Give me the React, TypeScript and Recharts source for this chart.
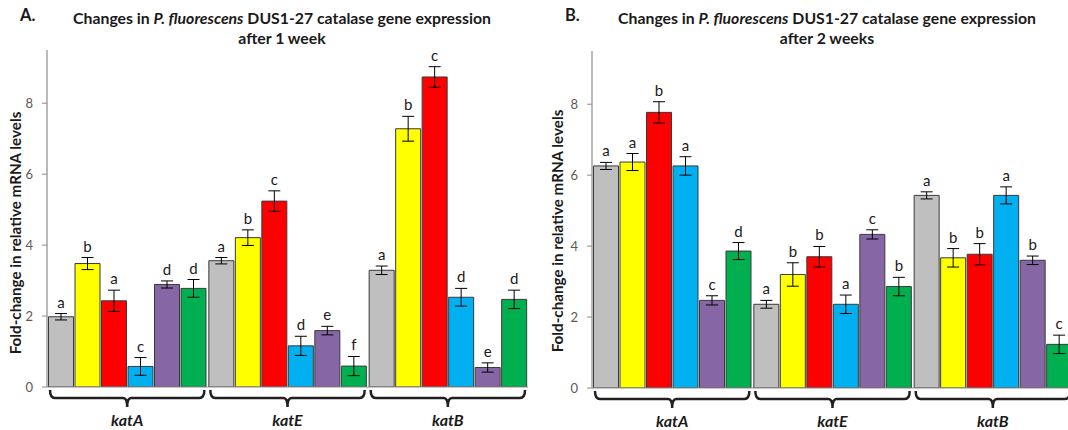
import React from 'react';
import { BarChart, Bar, XAxis, YAxis, ErrorBar, LabelList } from 'recharts';

const FONT = 'Lato, "Open Sans", sans-serif';

const genes = ['katA', 'katE', 'katB'];
const treatmentKeys = ['t1', 't2', 't3', 't4', 't5', 't6'];
const treatmentColors = ['#BFBFBF', '#FFFF00', '#FF0000', '#00B0F0', '#8766A6', '#00B050'];
const yTicks = [0, 2, 4, 6, 8];

// Week 1 (panel A): values per treatment, in gene order katA, katE, katB
const w1T1 = [1.98, 3.56, 3.29];
const w1T2 = [3.48, 4.21, 7.28];
const w1T3 = [2.43, 5.24, 8.74];
const w1T4 = [0.58, 1.16, 2.53];
const w1T5 = [2.89, 1.59, 0.55];
const w1T6 = [2.78, 0.59, 2.47];
const w1E1 = [0.09, 0.09, 0.12];
const w1E2 = [0.17, 0.22, 0.35];
const w1E3 = [0.3, 0.29, 0.29];
const w1E4 = [0.25, 0.27, 0.25];
const w1E5 = [0.1, 0.12, 0.13];
const w1E6 = [0.25, 0.27, 0.26];
const w1L1 = ['a', 'a', 'a'];
const w1L2 = ['b', 'b', 'b'];
const w1L3 = ['a', 'c', 'c'];
const w1L4 = ['c', 'd', 'd'];
const w1L5 = ['d', 'e', 'e'];
const w1L6 = ['d', 'f', 'd'];

// Week 2 (panel B)
const w2T1 = [6.26, 2.36, 5.43];
const w2T2 = [6.37, 3.2, 3.67];
const w2T3 = [7.77, 3.7, 3.77];
const w2T4 = [6.26, 2.36, 5.43];
const w2T5 = [2.47, 4.33, 3.6];
const w2T6 = [3.86, 2.86, 1.23];
const w2E1 = [0.1, 0.11, 0.1];
const w2E2 = [0.24, 0.33, 0.26];
const w2E3 = [0.3, 0.29, 0.3];
const w2E4 = [0.26, 0.26, 0.24];
const w2E5 = [0.13, 0.13, 0.12];
const w2E6 = [0.24, 0.26, 0.26];
const w2L1 = ['a', 'a', 'a'];
const w2L2 = ['a', 'b', 'b'];
const w2L3 = ['b', 'b', 'b'];
const w2L4 = ['a', 'a', 'a'];
const w2L5 = ['c', 'c', 'b'];
const w2L6 = ['d', 'b', 'c'];

function buildRows(vals: number[][], errs: number[][], lets: string[][]) {
  return genes.map((g, i) => {
    const row: any = { gene: g };
    treatmentKeys.forEach((k, j) => {
      row[k] = vals[j][i];
      row[k + 'Err'] = errs[j][i];
      row[k + 'Let'] = lets[j][i];
    });
    return row;
  });
}

const week1Rows = buildRows(
  [w1T1, w1T2, w1T3, w1T4, w1T5, w1T6],
  [w1E1, w1E2, w1E3, w1E4, w1E5, w1E6],
  [w1L1, w1L2, w1L3, w1L4, w1L5, w1L6]
);
const week2Rows = buildRows(
  [w2T1, w2T2, w2T3, w2T4, w2T5, w2T6],
  [w2E1, w2E2, w2E3, w2E4, w2E5, w2E6],
  [w2L1, w2L2, w2L3, w2L4, w2L5, w2L6]
);

function makeLetter(rows: any[], key: string) {
  return (props: any) => {
    const vb = props.viewBox ?? {};
    const x = props.x ?? vb.x;
    const y = props.y ?? vb.y;
    const w = props.width ?? vb.width;
    const h = props.height ?? vb.height;
    const row = rows[props.index];
    if (!row) return null;
    const v = row[key];
    const e = row[key + 'Err'];
    const errPx = v ? (e * h) / v : 0;
    return (
      <text x={x + w / 2} y={y - errPx - 6} textAnchor="middle" fontSize={15} fill="#1a1a1a" fontFamily={FONT}>
        {row[key + 'Let']}
      </text>
    );
  };
}

function makeGeneTick(band: number) {
  return (props: any) => {
    const { x, y, payload } = props;
    const half = band / 2 - 3;
    const x0 = x - half;
    const x1 = x + half;
    const yL = y + 11;
    const yT = y + 3;
    const d = `M${x0},${yT} Q${x0},${yL} ${x0 + 5},${yL} L${x - 4},${yL} Q${x},${yL} ${x},${yL + 9} Q${x},${yL} ${x + 4},${yL} L${x1 - 5},${yL} Q${x1},${yL} ${x1},${yT}`;
    return (
      <g>
        <path d={d} fill="none" stroke="#231f20" strokeWidth={2.5} />
        <text x={x} y={y + 38.5} textAnchor="middle" fontSize={16} fontWeight="bold" fontStyle="italic" fill="#1a1a1a" fontFamily={FONT}>
          {payload.value}
        </text>
      </g>
    );
  };
}

function Panel(props: { rows: any[]; width: number; left: number; top: number; xHeight: number; labelX: number; labelY: number }) {
  const { rows, width, left, top, xHeight, labelX, labelY } = props;
  const right = 6;
  const yW = 40;
  const plotW = width - left - right - yW;
  const band = plotW / genes.length;
  const axisColor = '#8c8c8c';
  return (
    <BarChart
      width={width}
      height={430}
      data={rows}
      margin={{ top, right, bottom: 0, left }}
      barCategoryGap={1.5}
      barGap={1.5}
    >
      <XAxis
        dataKey="gene"
        height={xHeight}
        axisLine={{ stroke: axisColor, strokeWidth: 1.2 }}
        tickLine={false}
        tickSize={0}
        tickMargin={0}
        tick={makeGeneTick(band)}
        interval={0}
      />
      <XAxis xAxisId="top" dataKey="gene" orientation="top" height={0} tick={false} tickLine={false} axisLine={{ stroke: axisColor, strokeWidth: 1.2 }} />
      <YAxis
        width={yW}
        domain={[0, 9.5]}
        ticks={yTicks}
        allowDataOverflow
        axisLine={{ stroke: axisColor, strokeWidth: 1.2 }}
        tickLine={{ stroke: axisColor }}
        tickSize={5}
        tickMargin={9}
        tick={{ fontSize: 13, fill: '#595959', fontFamily: FONT }}
        label={{
          content: () => (
            <text
              x={labelX}
              y={labelY}
              transform={`rotate(-90 ${labelX} ${labelY})`}
              textAnchor="middle"
              dominantBaseline="central"
              fontSize={15.2}
              fontWeight="bold"
              fill="#1a1a1a"
              fontFamily={FONT}
            >
              Fold-change in relative mRNA levels
            </text>
          ),
        }}
      />
      <YAxis yAxisId="right" orientation="right" width={0} tick={false} tickLine={false} axisLine={{ stroke: axisColor, strokeWidth: 1.2 }} />
      {treatmentKeys.map((k, j) => (
        <Bar key={k} dataKey={k} fill={treatmentColors[j]} stroke="#3a3a3a" strokeWidth={1} isAnimationActive={false}>
          <ErrorBar dataKey={k + 'Err'} width={6} stroke="#000" strokeWidth={1} direction="y" />
          <LabelList dataKey={k + 'Let'} content={makeLetter(rows, k)} />
        </Bar>
      ))}
    </BarChart>
  );
}

const titleStyle: React.CSSProperties = {
  position: 'absolute',
  fontFamily: FONT,
  fontWeight: 'bold',
  fontSize: 15.8,
  color: '#1a1a1a',
  whiteSpace: 'nowrap',
  transform: 'translateX(-50%)',
  textAlign: 'center',
  lineHeight: '20px',
};

export default function App() {
  return (
    <div style={{ position: 'absolute', left: 0, top: 0, width: 1068, height: 430, overflow: 'hidden', background: '#fff' }}>
      <div style={{ position: 'absolute', left: 0, top: 0 }}>
        <Panel rows={week1Rows} width={534} left={7} top={50} xHeight={43} labelX={15} labelY={233} />
      </div>
      <div style={{ position: 'absolute', left: 534, top: 0 }}>
        <Panel rows={week2Rows} width={545} left={18} top={51} xHeight={42} labelX={23} labelY={231} />
      </div>
      <div style={{ ...titleStyle, left: 282, top: 8 }}>
        Changes in <i>P. fluorescens</i> DUS1-27 catalase gene expression
        <br />
        after 1 week
      </div>
      <div style={{ ...titleStyle, left: 827, top: 8 }}>
        Changes in <i>P. fluorescens</i> DUS1-27 catalase gene expression
        <br />
        after 2 weeks
      </div>
      <div style={{ position: 'absolute', left: 20, top: 5, fontFamily: FONT, fontWeight: 'bold', fontSize: 16.5, color: '#1a1a1a' }}>A.</div>
      <div style={{ position: 'absolute', left: 565, top: 5, fontFamily: FONT, fontWeight: 'bold', fontSize: 16.5, color: '#1a1a1a' }}>B.</div>
    </div>
  );
}
